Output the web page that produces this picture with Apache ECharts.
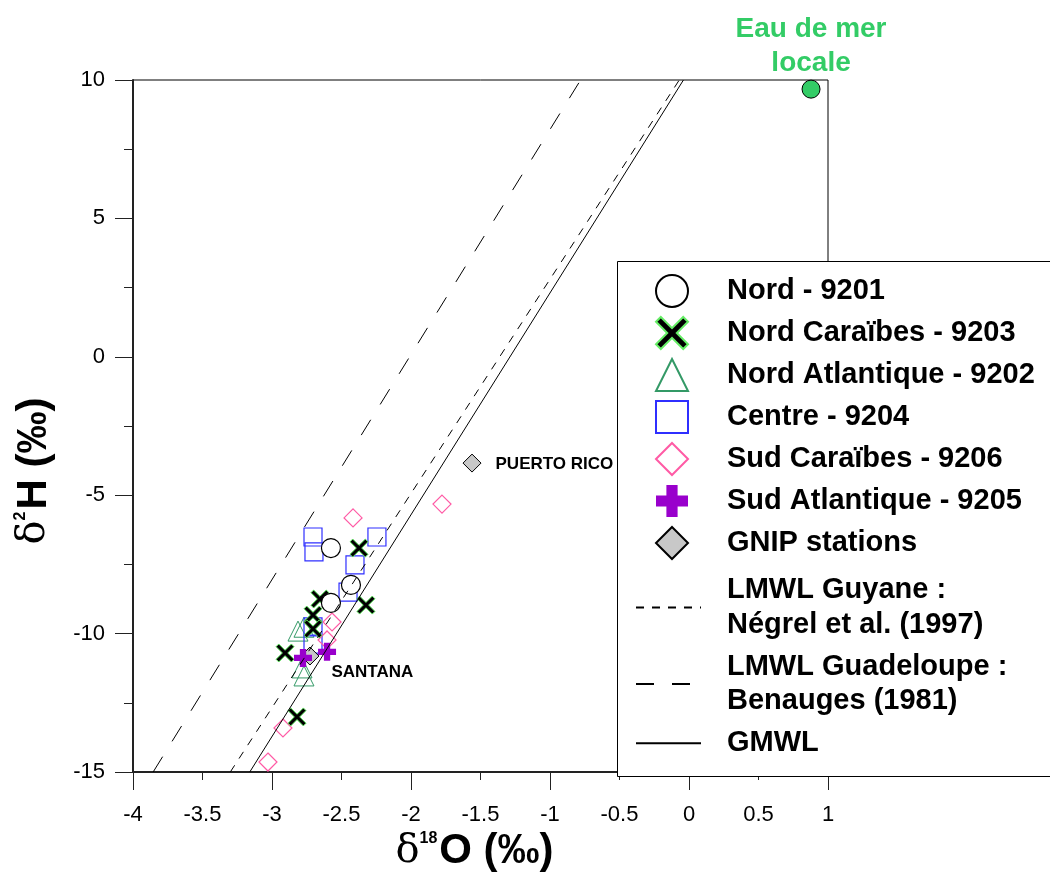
<!DOCTYPE html>
<html>
<head>
<meta charset="utf-8">
<script src="https://cdn.jsdelivr.net/npm/echarts@6/dist/echarts.min.js"></script>
<style>
html,body{margin:0;padding:0;background:#fff;}
#chart{width:1050px;height:880px;}
</style>
</head>
<body>
<div id="chart"></div>
<script>
// ---- data (δ18O, δ2H) ----
const xTicks = [-4, -3.5, -3, -2.5, -2, -1.5, -1, -0.5, 0, 0.5, 1];
const yTicks = [-15, -10, -5, 0, 5, 10];
const nord = [[-2.576, -6.91], [-2.432, -8.24], [-2.576, -8.89]];
const nordCaraibes = [[-2.374, -6.91], [-2.324, -8.97], [-2.655, -8.75], [-2.705, -9.33], [-2.705, -9.83], [-2.906, -10.70], [-2.820, -13.01]];
const nordAtlantique = [[-2.813, -9.91], [-2.770, -9.77], [-2.784, -11.24], [-2.770, -11.53]];
const centre = [[-2.705, -6.51], [-2.698, -7.05], [-2.245, -6.51], [-2.403, -7.52], [-2.453, -8.50], [-2.705, -9.76], [-2.705, -10.38]];
const sudCaraibes = [[-2.417, -5.82], [-1.777, -5.32], [-2.568, -9.58], [-2.604, -10.23], [-2.921, -13.41], [-3.029, -14.64]];
const sudAtlantique = [[-2.777, -10.88], [-2.604, -10.66]];
const gnipX = [-2.727, -1.561];
const gnipY = [-10.81, -3.84];
const gnipNames = ['SANTANA', 'PUERTO RICO'];
const eauDeMer = [[0.878, 9.67]];
const gmwl = [[-3.16, -15], [-0.04, 10]];
const lmwlGuyane = [[-3.30, -15], [-0.07, 10]];
const lmwlGuadeloupe = [[-3.855, -15], [-0.78, 10]];

const names = {
  nord: 'Nord - 9201',
  nc: 'Nord Caraïbes - 9203',
  na: 'Nord Atlantique - 9202',
  centre: 'Centre - 9204',
  sc: 'Sud Caraïbes - 9206',
  sa: 'Sud Atlantique - 9205',
  gnip: 'GNIP stations',
  guy: 'LMWL Guyane :\nNégrel et al. (1997)',
  gua: 'LMWL Guadeloupe :\nBenauges (1981)',
  gmwl: 'GMWL'
};

const FONT = 'Liberation Sans, Arial, Helvetica, sans-serif';
const X_PATH = 'path://M0,3 L3,0 L10,7 L17,0 L20,3 L13,10 L20,17 L17,20 L10,13 L3,20 L0,17 L7,10 Z';
const PLUS_PATH = 'path://M6.5,0 H13.5 V6.5 H20 V13.5 H13.5 V20 H6.5 V13.5 H0 V6.5 H6.5 Z';

const gnipLabelPos = [{offset: [1, 16], distance: 11}, {offset: [0, 1], distance: 14}];
const gnipData = gnipX.map((x, i) => ({
  value: [x, gnipY[i]],
  name: gnipNames[i],
  label: {offset: gnipLabelPos[i].offset, distance: gnipLabelPos[i].distance}
}));

const chart = echarts.init(document.getElementById('chart'), null, {renderer: 'canvas'});

const axisNameRich = {
  d: {fontFamily: 'DejaVu Serif, Liberation Serif, serif', fontSize: 40, color: '#000'},
  s: {fontFamily: FONT, fontSize: 16, fontWeight: 'bold', color: '#000', verticalAlign: 'top', padding: [0, 2, 0, 0]},
  b: {fontFamily: FONT, fontSize: 42, fontWeight: 'bold', color: '#000'}
};

const hollow = 'rgba(255,255,255,0)';

const option = {
  backgroundColor: '#fff',
  animation: false,
  textStyle: {fontFamily: FONT},
  grid: {left: 133, right: 222, top: 80, bottom: 108, show: true, borderColor: '#000', borderWidth: 1, backgroundColor: 'transparent'},
  xAxis: [{
    type: 'value', min: xTicks[0], max: xTicks[xTicks.length - 1], interval: 0.5, position: 'bottom',
    name: '{d|δ}{s|18}{b|O (‰)}', nameLocation: 'middle', nameGap: 56,
    nameTextStyle: {rich: axisNameRich, padding: [0, 12, 0, 0]},
    axisLine: {show: true, onZero: false, lineStyle: {color: '#222', width: 2}},
    axisTick: {show: true, length: 8, lineStyle: {color: '#222', width: 1}},
    axisLabel: {fontSize: 22, color: '#000', fontFamily: FONT, margin: 32},
    splitLine: {show: false}
  }, {
    type: 'value', min: xTicks[0], max: xTicks[xTicks.length - 1], interval: 1, position: 'bottom', offset: 0,
    axisLine: {show: false, onZero: false},
    axisTick: {show: true, length: 18, lineStyle: {color: '#222', width: 1}},
    axisLabel: {show: false},
    splitLine: {show: false}
  }],
  yAxis: [{
    type: 'value', min: yTicks[0], max: yTicks[yTicks.length - 1], interval: 5,
    name: '{d|δ}{s|2}{b|H (‰)}', nameLocation: 'middle', nameGap: 78, nameRotate: 90,
    nameTextStyle: {rich: axisNameRich, padding: [0, 90, 0, 0]},
    axisLine: {show: true, onZero: false, lineStyle: {color: '#222', width: 2}},
    axisTick: {show: true, length: 18, lineStyle: {color: '#222', width: 1}},
    minorTick: {show: true, splitNumber: 2, length: 9, lineStyle: {color: '#222', width: 1}},
    axisLabel: {fontSize: 22, color: '#000', fontFamily: FONT, margin: 28},
    splitLine: {show: false}, minorSplitLine: {show: false}
  }],
  legend: [{
    orient: 'vertical', left: 655, top: 270, padding: 0, itemGap: 0,
    itemWidth: 32, itemHeight: 32, selectedMode: false,
    data: [names.nord, names.nc, names.na, names.centre, names.sc, names.sa, names.gnip],
    textStyle: {fontSize: 29, fontWeight: 'bold', color: '#000', fontFamily: FONT, lineHeight: 42, padding: [0, 0, 0, 34]},
    z: 6
  }, {
    orient: 'vertical', left: 635, top: 573, padding: 0, itemGap: 7.5,
    itemWidth: 65, itemHeight: 14, selectedMode: false,
    data: [names.guy, names.gua, names.gmwl],
    itemStyle: {color: 'rgba(0,0,0,0)', borderWidth: 0, opacity: 0},
    textStyle: {fontSize: 29, fontWeight: 'bold', color: '#000', fontFamily: FONT, lineHeight: 34.5, padding: [0, 0, 0, 21]},
    z: 6
  }],
  graphic: {elements: [{
    type: 'rect', z: 3,
    shape: {x: 617.5, y: 261.5, width: 520, height: 515},
    style: {fill: '#fff', stroke: '#000', lineWidth: 1}
  }]},
  series: [
    {name: names.na, type: 'scatter', data: nordAtlantique, symbol: 'triangle', symbolSize: 20,
     itemStyle: {color: hollow, borderColor: '#339966', borderWidth: 1, opacity: 1}},
    {name: names.centre, type: 'scatter', data: centre, symbol: 'rect', symbolSize: 18,
     itemStyle: {color: hollow, borderColor: '#2f2fff', borderWidth: 1.2, opacity: 1}},
    {name: names.sc, type: 'scatter', data: sudCaraibes, symbol: 'diamond', symbolSize: 18,
     itemStyle: {color: hollow, borderColor: '#ff5aa5', borderWidth: 1.2, opacity: 1}},
    {name: names.gnip, type: 'scatter', data: gnipData, symbol: 'diamond', symbolSize: 18,
     itemStyle: {color: '#c8c8c8', borderColor: '#000', borderWidth: 1, opacity: 1},
     label: {show: true, position: 'right', formatter: '{b}', fontSize: 17, fontWeight: 'bold', color: '#000', fontFamily: FONT}},
    {name: names.nc, type: 'scatter', data: nordCaraibes, symbol: X_PATH, symbolSize: 18,
     itemStyle: {color: '#000', borderColor: '#66ee66', borderWidth: 1, opacity: 1}},
    {name: names.sa, type: 'scatter', data: sudAtlantique, symbol: PLUS_PATH, symbolSize: 18,
     itemStyle: {color: '#9900cc', opacity: 1}},
    {name: names.nord, type: 'scatter', data: nord, symbol: 'circle', symbolSize: 19,
     itemStyle: {color: '#fff', borderColor: '#000', borderWidth: 1.2, opacity: 1}},
    {name: 'Eau de mer locale', type: 'scatter', data: eauDeMer, symbol: 'circle', symbolSize: 18,
     itemStyle: {color: '#33cc66', borderColor: '#000', borderWidth: 1, opacity: 1},
     label: {show: true, position: 'top', distance: -1, formatter: 'Eau de mer\nlocale', color: '#33cc66',
       fontSize: 28, fontWeight: 'bold', lineHeight: 34, fontFamily: FONT, align: 'center'}},
    {name: names.guy, type: 'line', data: lmwlGuyane, symbol: 'none', showSymbol: false, z: 3,
     itemStyle: {color: '#000'}, lineStyle: {color: '#000', width: 1, type: [8, 8]}},
    {name: names.gua, type: 'line', data: lmwlGuadeloupe, symbol: 'none', showSymbol: false, z: 3,
     itemStyle: {color: '#000'}, lineStyle: {color: '#000', width: 1, type: [18, 18]}},
    {name: names.gmwl, type: 'line', data: gmwl, symbol: 'none', showSymbol: false, z: 3,
     itemStyle: {color: '#000'}, lineStyle: {color: '#000', width: 1}}
  ]
};
chart.setOption(option);
</script>
</body>
</html>
